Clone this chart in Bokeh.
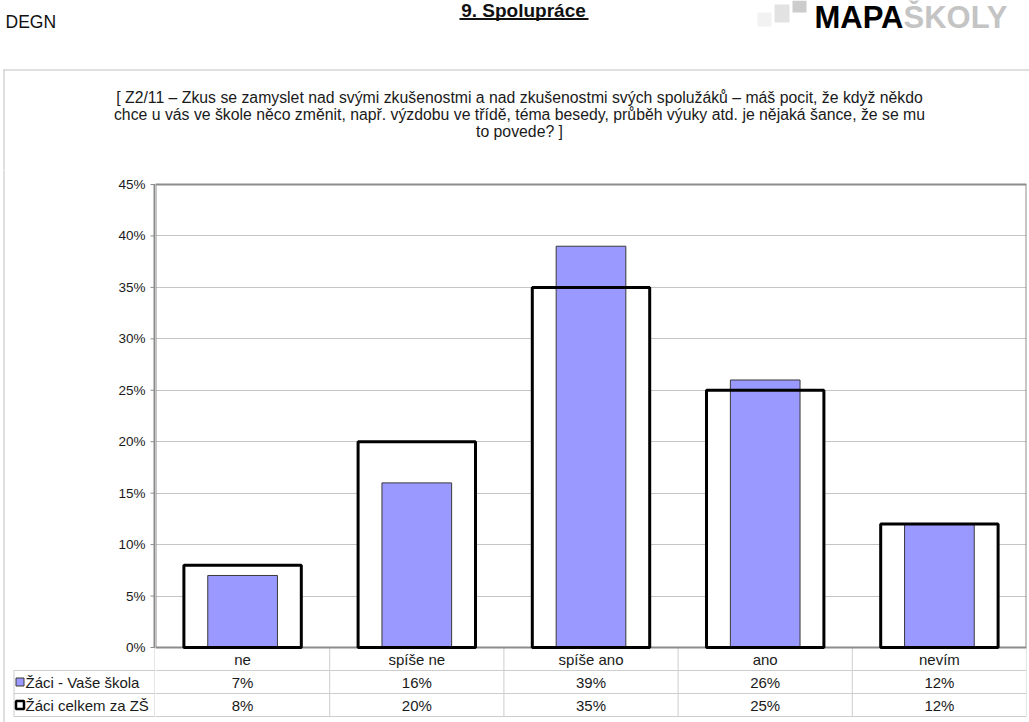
from bokeh.plotting import figure
from bokeh.layouts import column, row
from bokeh.models import FactorRange, Range1d, FixedTicker, ColumnDataSource
from bokeh.core.properties import value
from bokeh.embed import file_html
from bokeh.resources import INLINE

# ---------------- data ----------------
categories = ["ne", "spíše ne", "spíše ano", "ano", "nevím"]
skola = [7, 16, 39, 26, 12]          # Žáci - Vaše škola
celkem = [8, 20, 35, 25, 12]         # Žáci celkem za ZŠ
series_names = ["Žáci - Vaše škola", "Žáci celkem za ZŠ"]
y_ticks = [0, 5, 10, 15, 20, 25, 30, 35, 40, 45]
y_tick_labels = ["0%", "5%", "10%", "15%", "20%", "25%", "30%", "35%", "40%", "45%"]
question = [
    "[ Z2/11 – Zkus se zamyslet nad svými zkušenostmi a nad zkušenostmi svých spolužáků – máš pocit, že když někdo",
    "chce u vás ve škole něco změnit, např. výzdobu ve třídě, téma besedy, průběh výuky atd. je nějaká šance, že se mu",
    "to povede? ]",
]
page_title = "9. Spolupráce"
header_left = "DEGN"
logo_parts = ["MAPA", "ŠKOLY"]

FONT = "Liberation Sans"
W, H = 1029, 722
HEADER_H = 170
LEFT_W = 155
PLOT_TOP, PLOT_BOTTOM = 184, 647
ROW_PX = 23
Y_MAX = 45
px = (PLOT_BOTTOM - PLOT_TOP) / Y_MAX
row_h = ROW_PX / px
Y_TOP = Y_MAX + (PLOT_TOP - HEADER_H) / px
Y_BOT = -(H - PLOT_BOTTOM) / px
n = len(categories)

GRID = "#c4c4c4"
TABLE = "#cdcdcd"
BORDER = "#8c8c8c"
FRAME = "#c0c0c0"
TXT = "#1a1a1a"


def bare(fig):
    fig.xgrid.visible = False
    fig.ygrid.visible = False
    fig.outline_line_color = None
    return fig


y_range = Range1d(Y_BOT, Y_TOP)

# ---------------- header ----------------
hd = bare(figure(width=W, height=HEADER_H, x_range=Range1d(0, W), y_range=Range1d(HEADER_H, 0),
                 x_axis_location=None, y_axis_location=None, min_border=0,
                 output_backend="svg", toolbar_location=None,
                 background_fill_color="white", border_fill_color="white"))
hd.text(x=[5], y=[21], text=[header_left], text_font=value(FONT), text_font_size="17.5px",
        text_baseline="middle", text_align="left", text_color="#111111")
hd.text(x=[523], y=[10], text=[page_title], text_font=value(FONT), text_font_size="19px",
        text_font_style="bold", text_baseline="middle", text_align="center",
        text_color="#111111")
hd.segment(x0=[459], x1=[588], y0=[18.5], y1=[18.5], line_color="#111111", line_width=2)
# logo
hd.quad(left=[757, 774, 792], right=[771, 789, 806], top=[12, 4, 0], bottom=[26, 22, 12],
        fill_color=["#f2f2f2", "#e2e2e2", "#cccccc"], line_color=None)
hd.text(x=[814, 903], y=[16.5, 16.5], text=logo_parts, text_font=value(FONT),
        text_font_size="31px", text_font_style="bold", text_baseline="middle",
        text_align="left", text_color=["#000000", "#c4c4c4"])
# outer chart frame (top/left)
hd.segment(x0=[3, 3.5], x1=[W + 5, 3.5], y0=[69.5, 69], y1=[69.5, HEADER_H + 1],
           line_color=FRAME, line_width=1)
hd.text(x=[519] * len(question), y=[97 + 17 * i for i in range(len(question))], text=question,
        text_font=value(FONT), text_font_size="15.8px", text_baseline="middle",
        text_align="center", text_color=TXT)

# ---------------- left strip: y axis + legend column ----------------
lf = bare(figure(width=LEFT_W, height=H - HEADER_H, x_range=Range1d(0, LEFT_W), y_range=y_range,
                 x_axis_location=None, y_axis_location=None, min_border=0,
                 output_backend="svg", toolbar_location=None,
                 background_fill_color="white", border_fill_color="white"))
lf.segment(x0=[3.5], x1=[3.5], y0=[Y_TOP + 1], y1=[Y_BOT - 1], line_color=FRAME, line_width=1)
lf.text(x=[145] * len(y_ticks), y=y_ticks, text=y_tick_labels, text_font=value(FONT),
        text_font_size="13.5px", text_baseline="middle", text_align="right", text_color=TXT)
lf.segment(x0=[150] * len(y_ticks), x1=[155] * len(y_ticks), y0=y_ticks, y1=y_ticks,
           line_color=BORDER, line_width=1)
# plot-area left border and its continuation in the table
lf.segment(x0=[154], x1=[154], y0=[0], y1=[Y_MAX], line_color=BORDER, line_width=2)
lf.segment(x0=[154.5], x1=[154.5], y0=[0], y1=[-3 * row_h], line_color=TABLE, line_width=1)
# legend rows of the data table
lf.segment(x0=[13] * 3, x1=[155] * 3, y0=[-row_h, -2 * row_h, -3 * row_h],
           y1=[-row_h, -2 * row_h, -3 * row_h], line_color=TABLE, line_width=1)
lf.segment(x0=[13.5], x1=[13.5], y0=[-row_h], y1=[-3 * row_h], line_color=TABLE, line_width=1)
leg_y = [-1.5 * row_h, -2.5 * row_h]
lf.scatter(x=[19.5], y=[leg_y[0]], marker="square", size=8, fill_color="#9999FF",
           line_color="#3a3a3a", line_width=1)
lf.scatter(x=[19.5], y=[leg_y[1]], marker="square", size=8, fill_color="white",
           line_color="black", line_width=2.5)
lf.text(x=[25, 25], y=leg_y, text=series_names, text_font=value(FONT), text_font_size="15px",
        text_baseline="middle", text_align="left", text_color=TXT)

# ---------------- main plot ----------------
p = figure(x_range=FactorRange(*categories, range_padding=0), y_range=y_range,
           width=W - LEFT_W, height=H - HEADER_H,
           x_axis_location=None, y_axis_location=None,
           min_border_left=0, min_border_right=3, min_border_top=0, min_border_bottom=0,
           output_backend="svg", toolbar_location=None,
           background_fill_color="white", border_fill_color="white")
p.xgrid.visible = False
p.ygrid.ticker = FixedTicker(ticks=y_ticks)
p.ygrid.grid_line_color = GRID
p.ygrid.grid_line_width = 1
p.outline_line_color = None

src = ColumnDataSource(dict(cat=categories, skola=skola, celkem=celkem,
                            skola_lbl=[f"{v}%" for v in skola],
                            celkem_lbl=[f"{v}%" for v in celkem]))

# data table lines
p.segment(x0=[0] * 3, x1=[n] * 3, y0=[-row_h, -2 * row_h, -3 * row_h],
          y1=[-row_h, -2 * row_h, -3 * row_h], line_color=TABLE, line_width=1)
p.segment(x0=list(range(1, n + 1)), x1=list(range(1, n + 1)), y0=[0] * n, y1=[-3 * row_h] * n,
          line_color=TABLE, line_width=1)

# plot-area border
p.quad(left=[0], right=[n], bottom=[0], top=[Y_MAX], fill_color=None,
       line_color=BORDER, line_width=2)

# bars
p.vbar(x="cat", top="celkem", width=0.674, source=src, fill_color="white", line_color=None)
p.vbar(x="cat", top="skola", width=0.40, source=src, fill_color="#9999FF",
       line_color="#3a3a3a", line_width=1)
p.vbar(x="cat", top="celkem", width=0.674, source=src, fill_color=None,
       line_color="black", line_width=3)

tkw = dict(text_font=value(FONT), text_font_size="15px", text_align="center",
           text_baseline="middle", text_color=TXT)
p.text(x="cat", y=-0.5 * row_h, text="cat", source=src, **tkw)
p.text(x="cat", y=-1.5 * row_h, text="skola_lbl", source=src, **tkw)
p.text(x="cat", y=-2.5 * row_h, text="celkem_lbl", source=src, **tkw)

layout = column(hd, row(lf, p, spacing=0), spacing=0)
open("out.html", "w").write(file_html(layout, INLINE))
